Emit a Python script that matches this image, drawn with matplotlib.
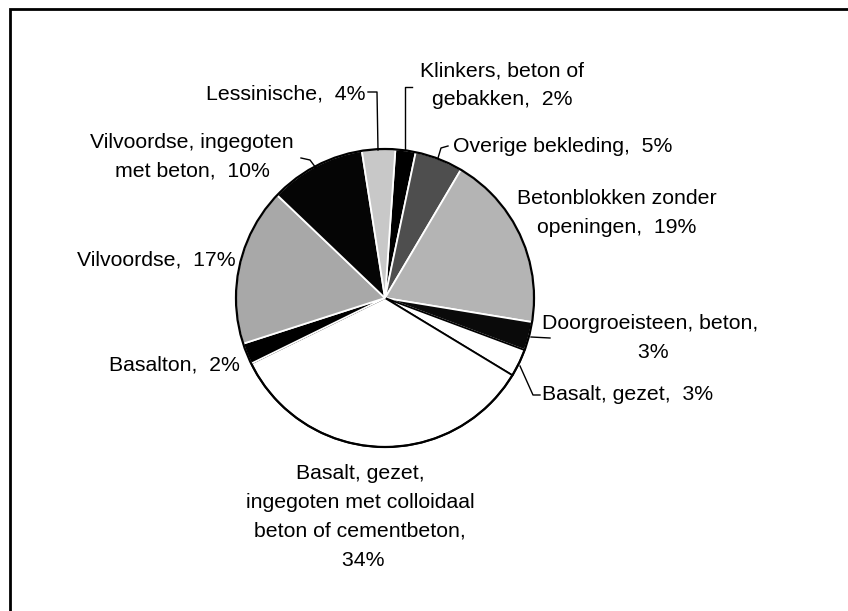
import matplotlib
matplotlib.use('Agg')
import matplotlib.pyplot as plt
from matplotlib.patches import Rectangle, Circle

# slices, clockwise from the top
names = ['Klinkers, beton of\ngebakken', 'Overige bekleding', 'Betonblokken zonder\nopeningen',
         'Doorgroeisteen, beton,\n', 'Basalt, gezet', 'Basalt, gezet,\ningegoten met colloidaal\nbeton of cementbeton,\n',
         'Basalton', 'Vilvoordse', 'Vilvoordse, ingegoten\nmet beton', 'Lessinische']
values = [2.2, 5.2, 19.1, 3.1, 3.0, 34.1, 2.3, 17.1, 10.4, 3.6]
colors = ['#000000', '#4e4e4e', '#b4b4b4', '#0a0a0a', '#ffffff', '#ffffff',
          '#000000', '#a8a8a8', '#050505', '#c8c8c8']
edges = ['white', 'white', 'white', 'white', 'black', 'black', 'white', 'white', 'white', 'white']

W, H = 848, 611
fig = plt.figure(figsize=(W / 100, H / 100), dpi=100)
ax = fig.add_axes([0, 0, 1, 1])


def Y(y):
    return H - y


cx, cy, r = 385, 298, 149
wedges, _ = ax.pie(values, colors=colors, startangle=86, counterclock=False,
                   center=(cx, Y(cy)), radius=r,
                   wedgeprops=dict(linewidth=1.3))
for w, e in zip(wedges, edges):
    w.set_edgecolor(e)
ax.add_patch(Circle((cx, Y(cy)), r, fill=False, ec='black', lw=1.6))

ax.set_xlim(0, W)
ax.set_ylim(0, H)
ax.set_aspect('auto')
ax.axis('off')

fp = dict(family='Liberation Sans', fontsize=15.3, color='black', linespacing=1.65)


def lab(i, x, y, ha='center'):
    txt = names[i] + (', ' if not names[i].endswith('\n') else '') + ' %d%%' % round(values[i])
    ax.text(x, Y(y), txt, ha=ha, va='center', **fp)


lab(0, 502, 85)
lab(1, 453, 146, ha='left')
lab(2, 617, 213)
lab(3, 650, 338)
lab(4, 542, 395, ha='left')
lab(5, 360, 517)
lab(6, 240, 365, ha='right')
lab(7, 236, 260, ha='right')
lab(8, 192, 157)
lab(9, 365, 94, ha='right')

# leader lines
leaders = [
    [(405, 150), (405, 87), (412, 87)],
    [(438, 158), (441, 148), (448, 146)],
    [(531, 337), (550, 338)],
    [(520, 366), (533, 395), (540, 395)],
    [(301, 158), (310, 160), (316, 168)],
    [(378, 150), (377, 92), (368, 92)],
]
for pts in leaders:
    ax.plot([p[0] for p in pts], [Y(p[1]) for p in pts], color='black', lw=1)

# outer frame, runs past the right and bottom edge
ax.add_patch(Rectangle((10, Y(700)), 900, 691, fill=False, ec='black', lw=2, clip_on=False))

fig.savefig('out.png', dpi=100, facecolor='white')
